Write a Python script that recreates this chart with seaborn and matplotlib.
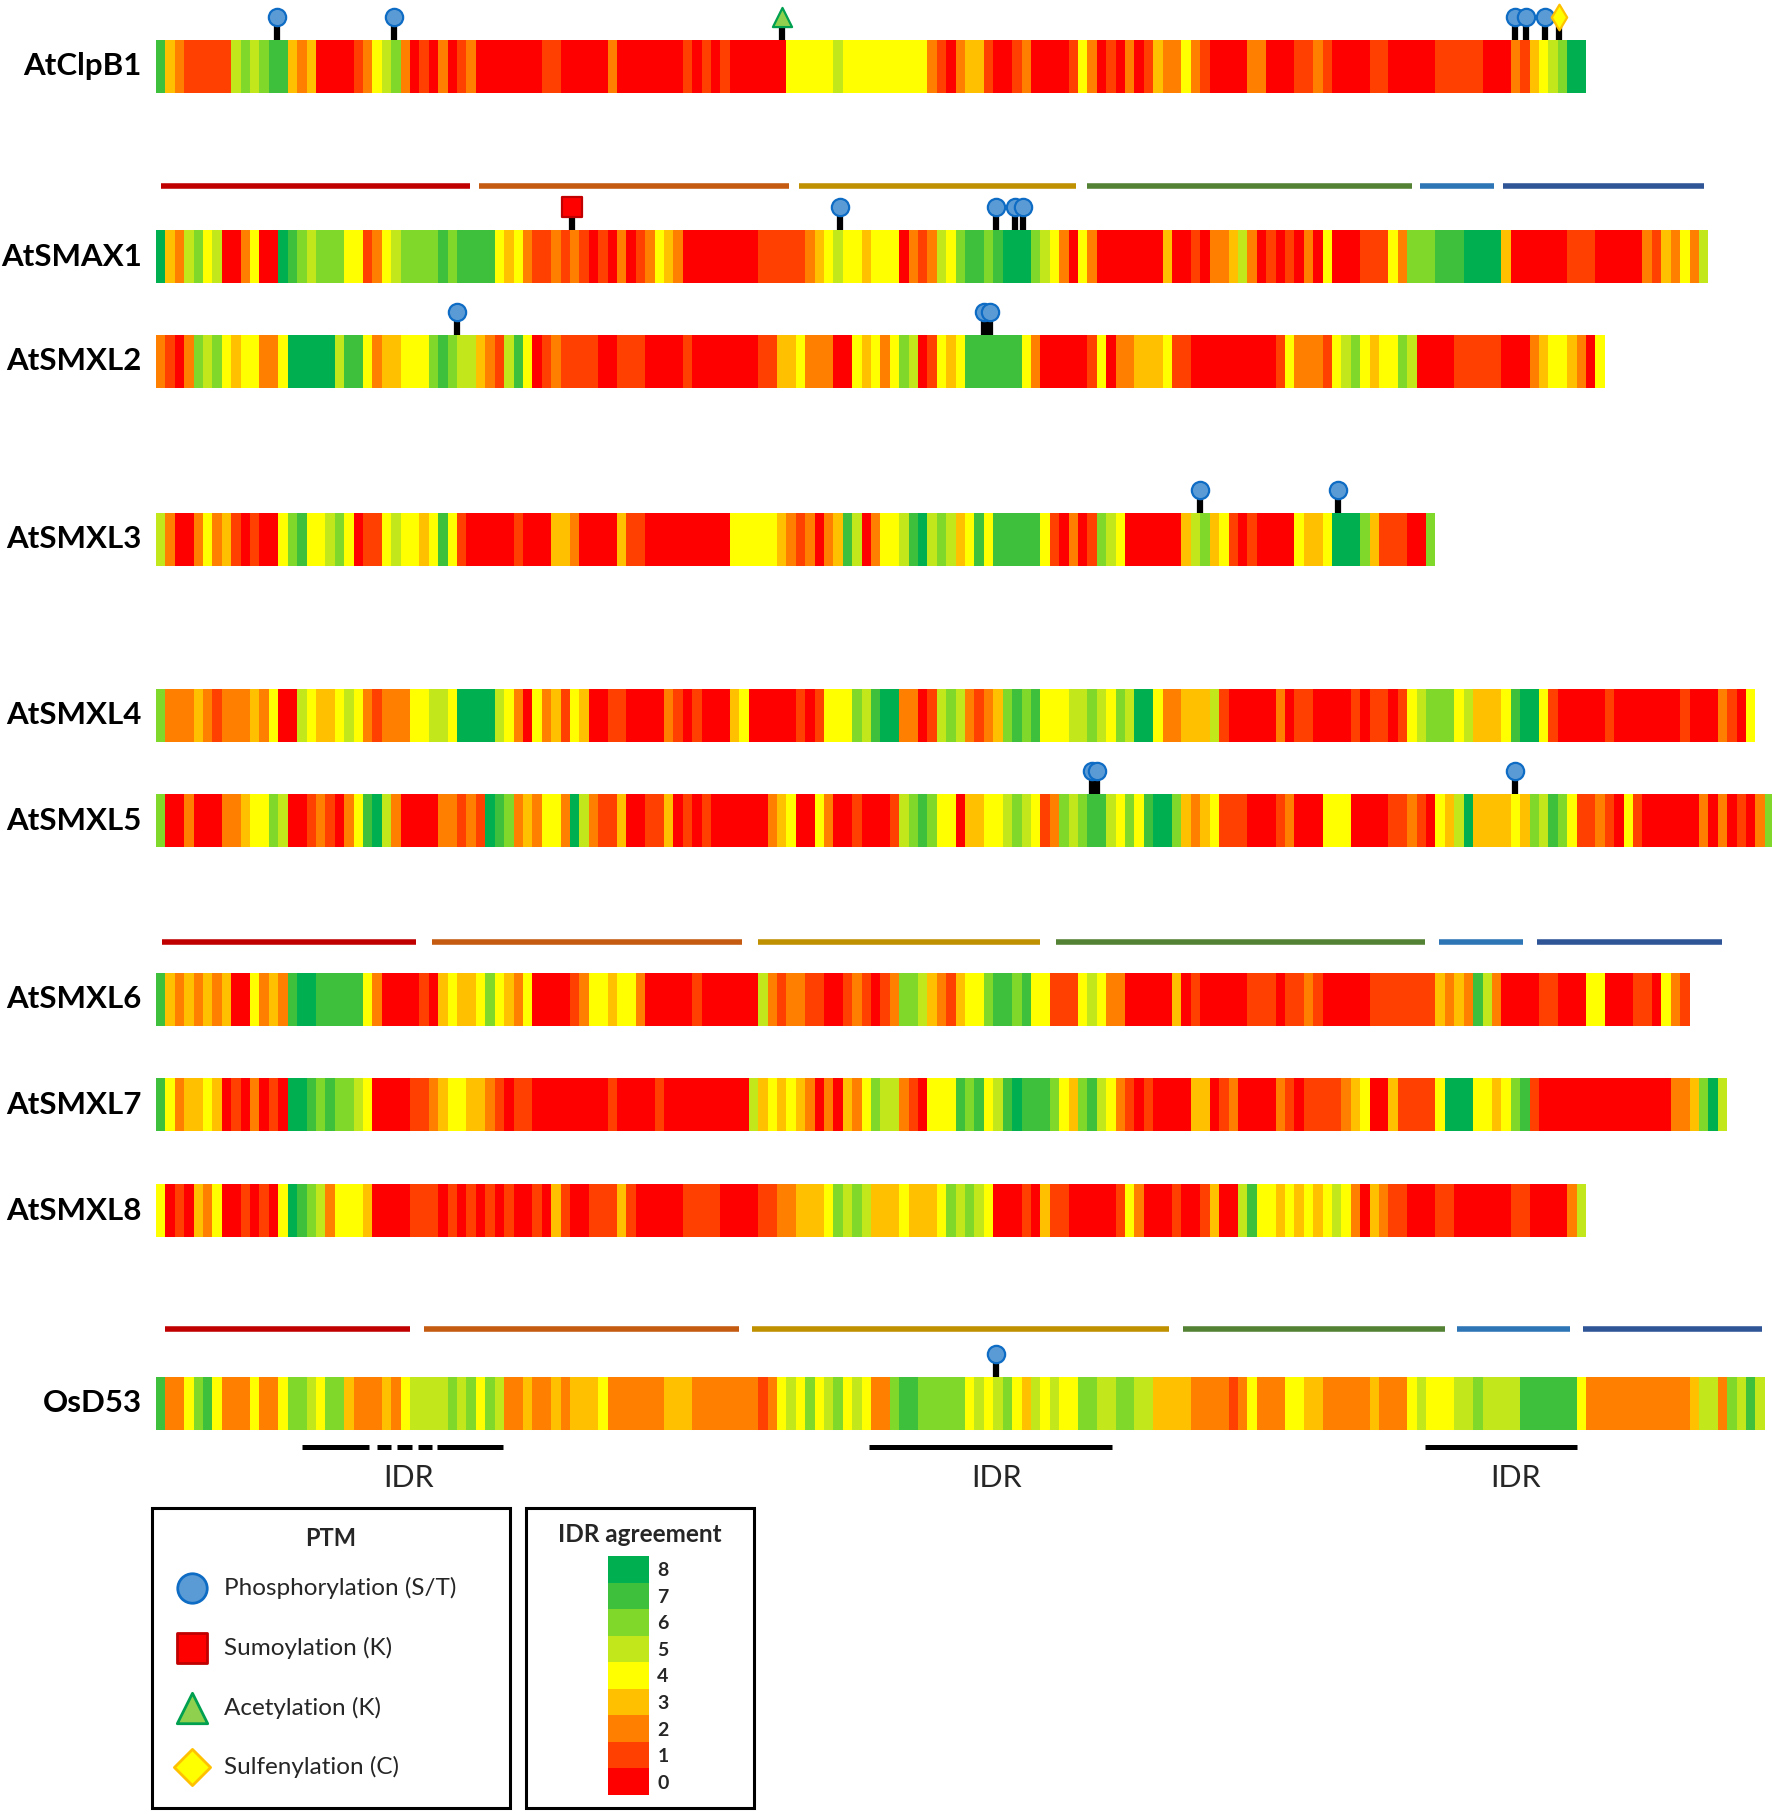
import numpy as np
import pandas as pd
import matplotlib
matplotlib.use("Agg")
import matplotlib.pyplot as plt
from matplotlib.colors import ListedColormap, BoundaryNorm
from matplotlib.patches import Rectangle
import seaborn as sns

# %% data: IDR agreement (0-8) per window of 6 residues
RES_PER_CELL = 6
proteins = ["AtClpB1", "AtSMAX1", "AtSMXL2", "AtSMXL3", "AtSMXL4",
            "AtSMXL5", "AtSMXL6", "AtSMXL7", "AtSMXL8", "OsD53"]

clpb1 = ("7321111156" "5677323000" "0124562010" "2012000000" "0110000020"
         "0000001010" "1000000444" "44544444"
         "4444210233" "1001200001" "4201020132" "2421000022" "0001121000"
         "0110000011" "1110002134" "5688")
smax1 = ("8325645002" "4008765666" "4412456666" "7677774342" "1121210102"
         "0124320000" "0000111112" "34544344"
         "4021254677" "6788865420" "4200000003" "0010223520" "1010204000"
         "1114266677" "7888830000" "0011100000" "2132425")
smxl2 = ("2102656434" "4224888885" "7742334446" "7655321574" "0121111001"
         "1100001000" "0000113342" "22004342"
         "4650143477" "7777420000" "0140223334" "1100000000" "0142221456"
         "4344650000" "1111100023" "443204")
smxl3 = ("5200242310" "1004674456" "4011454434" "7410000010" "0033200003"
         "1100000000" "0444443212" "02375024"
         "4578565347" "4777774102" "0165400000" "0356341010" "0004334888"
         "63111006")
smxl4 = ("6222321222" "3240054334" "5421222445" "5488885420" "4231430011"
         "0000210100" "0340000010" "14446578"
         "8220156521" "2367674445" "5654658842" "2333510000" "0201100001"
         "0110145666" "4533347884" "1000001000" "000010002104")
smxl5 = ("6002000223" "4465001210" "2478520000" "2212187623" "2442852113"
         "0011301010" "0000023400" "42001000"
         "1567644033" "4456541265" "6775464788" "6323411100" "0120004440"
         "0001121043" "5833334365" "7641121041" "0000002020" "1026")
smxl6 = ("7323232300" "4232788777" "7742000010" "3433464324" "0000124434"
         "4200000100" "0000521221" "10012101"
         "2665321344" "6776744111" "4542200000" "3010000011" "1011210000"
         "0111111132" "3275200001" "1000440001" "10421")
smxl7 = ("7423343010" "2010887676" "6540000112" "3443321011" "0000000010"
         "0001000000" "0005343432" "02032465"
         "5210444767" "4578777643" "6754210100" "0033012000" "0210111123"
         "4003111148" "8844346710" "0000000000" "000223685")
smxl8 = ("4010324001" "0104876524" "4430000111" "0101010100" "1031001113"
         "1000001111" "0000112233" "34656533"
         "3433346565" "4000103110" "0000142000" "1001300574" "4343434542"
         "0321100011" "0000001100" "0025")
osd53 = ("7224674222" "4224665466" "3222324555" "5656465223" "2232333422"
         "2222333222" "2222124546" "45645422"
         "6776666645" "4564354544" "6655665533" "3322221242" "2244332222"
         "2322245444" "5565555777" "7774222222" "2222235526" "575")
idr_strings = [clpb1, smax1, smxl2, smxl3, smxl4, smxl5, smxl6, smxl7, smxl8, osd53]

# PTM sites (residue positions)
ptm_protein = ["AtClpB1"] * 7 + ["AtSMAX1"] * 5 + ["AtSMXL2"] * 3 + \
              ["AtSMXL3"] * 2 + ["AtSMXL5"] * 3 + ["OsD53"]
ptm_pos = [77, 152, 399, 867, 874, 886, 895,
           265, 436, 536, 548, 553,
           192, 528, 532,
           666, 754,
           597, 600, 867,
           536]
ptm_type = ["P", "P", "A", "P", "P", "P", "S",
            "U", "P", "P", "P", "P",
            "P", "P", "P",
            "P", "P",
            "P", "P", "P",
            "P"]

# domain spans (residues) drawn above AtSMAX1, AtSMXL6 and OsD53
domain_starts = [[3, 206, 410, 594, 806, 859],
                 [4, 176, 384, 574, 818, 881],
                 [6, 171, 380, 655, 830, 910]]
domain_ends = [[200, 404, 587, 801, 853, 987],
               [166, 374, 564, 809, 872, 999],
               [162, 372, 646, 822, 902, 1024]]
domain_colors = ["#C00000", "#C55A11", "#BF9000", "#548235", "#2E75B6", "#2F5597"]

# IDR segments on OsD53 (solid + dashed pieces) and labels
idr_seg_start = [93, 141, 154, 167, 179, 455, 809]
idr_seg_end = [136, 150, 163, 176, 221, 610, 906]
idr_label_pos = [161, 536, 867]

levels = list(range(9))
level_colors = ["#FF0000", "#FF4000", "#FF8000", "#FFC000", "#FFFF00",
                "#C2E81C", "#80D82B", "#3FC03C", "#00B050"]

ptm_names = {"P": "Phosphorylation (S/T)", "U": "Sumoylation (K)",
             "A": "Acetylation (K)", "S": "Sulfenylation (C)"}
ptm_face = {"P": "#5B9BD5", "U": "#FF0000", "A": "#8FD14F", "S": "#FFFF00"}
ptm_edge = {"P": "#0F6CC4", "U": "#C00000", "A": "#00A050", "S": "#FFC000"}
ptm_marker = {"P": "o", "U": "s", "A": "^", "S": "d"}

# %% layout
W, H = 1772, 1814
X0, PX = 156, 1.568          # bar start (px) and px per residue
BAR_H = 53
row_top = [40, 230, 335, 513, 689, 794, 973, 1078, 1184, 1377]
domain_y = [186, 942, 1329]

sns.set_theme(style="white")
plt.rcParams["font.family"] = ["Lato", "DejaVu Sans"]

fig = plt.figure(figsize=(W / 100, H / 100), dpi=100)
ax = fig.add_axes([0, 0, 1, 1])
ax.set_xlim(-X0 / PX, (W - X0) / PX)
ax.set_ylim(H, 0)
ax.axis("off")

cmap = ListedColormap(level_colors)
norm = BoundaryNorm(np.arange(-0.5, 9.5, 1), cmap.N)

for name, s, top in zip(proteins, idr_strings, row_top):
    vals = np.array([int(c) for c in s]).reshape(1, -1)
    xe = np.arange(vals.shape[1] + 1) * RES_PER_CELL
    ax.pcolormesh(xe, [top, top + BAR_H], vals, cmap=cmap, norm=norm,
                  shading="flat", edgecolors="none", antialiased=False)
    ax.text(-9, top + BAR_H / 2, name, ha="right", va="center",
            fontsize=22.5, fontweight="bold", color="black")

for gy, st, en in zip(domain_y, domain_starts, domain_ends):
    for a, b, c in zip(st, en, domain_colors):
        ax.plot([a, b], [gy, gy], color=c, lw=4, solid_capstyle="butt")

# PTM lollipops
ptm = pd.DataFrame(dict(protein=ptm_protein, pos=ptm_pos, kind=ptm_type))
top_of = dict(zip(proteins, row_top))
ptm["bar_top"] = ptm["protein"].map(top_of)
ptm["head_y"] = ptm["bar_top"] - 23
ax.vlines(ptm["pos"], ptm["head_y"], ptm["bar_top"], color="black", lw=4.5, zorder=3)
for k in ["P", "U", "A", "S"]:
    sub = ptm[ptm["kind"] == k]
    if len(sub) == 0:
        continue
    size = {"P": 155, "U": 190, "A": 190, "S": 170}[k]
    sns.scatterplot(data=sub, x="pos", y="head_y", marker=ptm_marker[k], s=size,
                    color=ptm_face[k], edgecolor=ptm_edge[k], linewidth=1.6,
                    ax=ax, zorder=4, legend=False)

# IDR bars under OsD53
for a, b in zip(idr_seg_start, idr_seg_end):
    ax.plot([a, b], [1447, 1447], color="black", lw=3.6, solid_capstyle="butt")
for p in idr_label_pos:
    ax.text(p, 1478, "IDR", ha="center", va="center", fontsize=22)
ax.set_xlabel("")
ax.set_ylabel("")

# %% legends (pixel coordinates)
lg = fig.add_axes([0, 0, 1, 1], facecolor="none")
lg.set_xlim(0, W)
lg.set_ylim(H, 0)
lg.axis("off")
lg.add_patch(Rectangle((152, 1508), 358, 300, fill=False, lw=2.2, ec="black"))
lg.add_patch(Rectangle((526, 1508), 228, 300, fill=False, lw=2.2, ec="black"))
lg.text(331, 1538, "PTM", ha="center", va="center", fontsize=17, fontweight="bold")
lg.text(640, 1535, "IDR agreement", ha="center", va="center", fontsize=17.5,
        fontweight="bold")
leg_y = [1588, 1648, 1708, 1767]
leg_size = {"P": 450, "U": 480, "A": 480, "S": 340}
leg_marker = {"P": "o", "U": "s", "A": "^", "S": "D"}
for k, y in zip(["P", "U", "A", "S"], leg_y):
    lg.scatter([192], [y], marker=leg_marker[k], s=leg_size[k], c=ptm_face[k],
               edgecolors=ptm_edge[k], linewidths=2)
    lg.text(224, y, ptm_names[k], ha="left", va="center", fontsize=17.5)

cb = fig.add_axes([608 / W, 1 - 1795 / H, 41 / W, 239 / H])
scale = pd.DataFrame({"v": levels[::-1]}, index=[str(v) for v in levels[::-1]])
sns.heatmap(scale, cmap=cmap, vmin=-0.5, vmax=8.5, cbar=False, ax=cb,
            xticklabels=False, yticklabels=True, linewidths=0)
cb.yaxis.tick_right()
cb.set_ylabel("")
cb.tick_params(axis="y", length=0, pad=6)
for t in cb.get_yticklabels():
    t.set_rotation(0)
    t.set_fontweight("bold")
    t.set_fontsize(14)

fig.savefig("out.png", dpi=100)
